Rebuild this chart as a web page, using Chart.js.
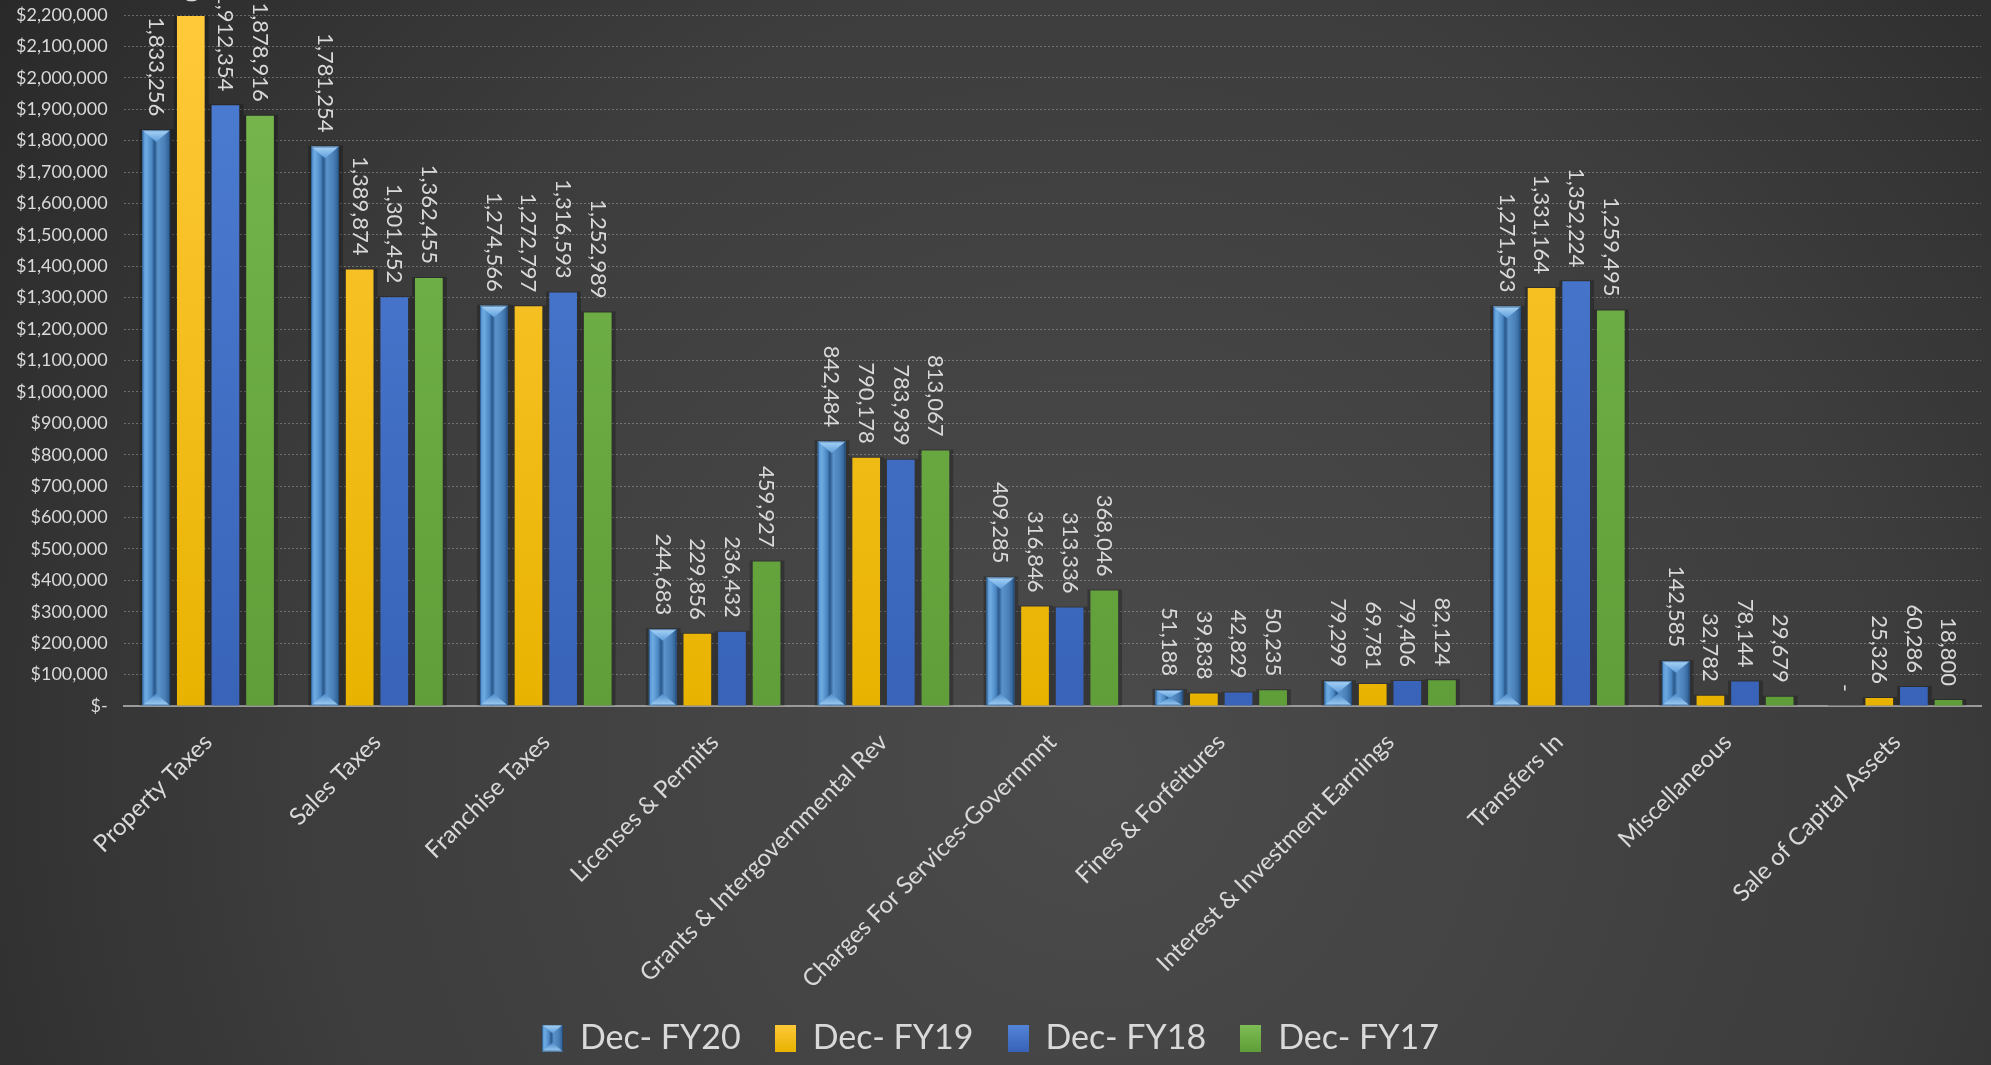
<!DOCTYPE html>
<html>
<head>
<meta charset="utf-8">
<script src="https://cdn.jsdelivr.net/npm/chart.js@4.4.1/dist/chart.umd.min.js"></script>
<style>
html,body{margin:0;padding:0;background:#333;}
#wrap{width:1991px;height:1065px;}
</style>
</head>
<body>
<div id="wrap"><canvas id="c" width="1991" height="1065"></canvas></div>
<script>
const categories = [
  "Property Taxes", "Sales Taxes", "Franchise Taxes", "Licenses & Permits",
  "Grants & Intergovernmental Rev", "Charges For Services-Governmnt",
  "Fines & Forfeitures", "Interest & Investment Earnings", "Transfers In",
  "Miscellaneous", "Sale of Capital Assets"
];
const seriesNames = ["Dec- FY20", "Dec- FY19", "Dec- FY18", "Dec- FY17"];
const fy20 = [1833256, 1781254, 1274566, 244683, 842484, 409285, 51188, 79299, 1271593, 142585, 0];
const fy19 = [2196500, 1389874, 1272797, 229856, 790178, 316846, 39838, 69781, 1331164, 32782, 25326];
const fy18 = [1912354, 1301452, 1316593, 236432, 783939, 313336, 42829, 79406, 1352224, 78144, 60286];
const fy17 = [1878916, 1362455, 1252989, 459927, 813067, 368046, 50235, 82124, 1259495, 29679, 18800];
const yMin = 0, yMax = 2200000, yStep = 100000;

const FONT = "Lato, 'Open Sans', sans-serif";
const TXT = "#d9d9d9";

function fmtNum(v){ return v === 0 ? "-" : v.toLocaleString("en-US"); }

function fy20Fill(c2, L, T, w, h){
  const R = L + w, B = T + h, cx = L + w/2;
  const g = c2.createLinearGradient(L, 0, R, 0);
  g.addColorStop(0, "#4f8fd0");
  g.addColorStop(0.14, "#6fabe2");
  g.addColorStop(0.34, "#4a86c2");
  g.addColorStop(0.44, "#2b588a");
  g.addColorStop(0.50, "#3f74aa");
  g.addColorStop(0.56, "#5b93ca");
  g.addColorStop(0.80, "#4a80b8");
  g.addColorStop(1, "#2c5b8e");
  c2.fillStyle = g;
  c2.fillRect(L, T, w, h);
  const th = Math.min(w * 0.42, h / 2);
  const gt = c2.createLinearGradient(0, T, 0, T + th);
  gt.addColorStop(0, "#a9d3f6");
  gt.addColorStop(1, "#5f9fdc");
  c2.fillStyle = gt;
  c2.beginPath();
  c2.moveTo(L, T); c2.lineTo(R, T); c2.lineTo(cx, T + th); c2.closePath();
  c2.fill();
  const gb = c2.createLinearGradient(0, B - th, 0, B);
  gb.addColorStop(0, "#4d8ccb");
  gb.addColorStop(1, "#9fcdf3");
  c2.fillStyle = gb;
  c2.beginPath();
  c2.moveTo(L, B); c2.lineTo(R, B); c2.lineTo(cx, B - th); c2.closePath();
  c2.fill();
  c2.strokeStyle = "rgba(25,60,100,0.55)";
  c2.lineWidth = 1;
  c2.strokeRect(L + 0.5, T + 0.5, w - 1, h - 1);
}

function legendIcon(i){
  const cv = document.createElement("canvas");
  cv.width = 21; cv.height = 27;
  const c2 = cv.getContext("2d");
  if (i === 0) { fy20Fill(c2, 0, 0, 21, 27); return cv; }
  const cols = [null, ["#ffc93a", "#e8b300"], ["#5585d8", "#3863b8"], ["#7fbd56", "#5f9e38"]][i];
  const g = c2.createLinearGradient(0, 0, 0, 27);
  g.addColorStop(0, cols[0]); g.addColorStop(1, cols[1]);
  c2.fillStyle = g; c2.fillRect(0, 0, 21, 27);
  return cv;
}
const icons = [0, 1, 2, 3].map(legendIcon);

const bgPlugin = {
  id: "bg",
  beforeDraw(chart){
    const ctx = chart.ctx, w = chart.width, h = chart.height;
    const g = ctx.createRadialGradient(w*0.55, h*0.72, 0, w*0.55, h*0.72, w*0.72);
    g.addColorStop(0, "#4b4b4b");
    g.addColorStop(0.55, "#3d3d3d");
    g.addColorStop(1, "#262626");
    ctx.save();
    ctx.fillStyle = g;
    ctx.fillRect(0, 0, w, h);
    ctx.restore();
  }
};

const shadowPlugin = {
  id: "shadow",
  beforeDatasetsDraw(chart){
    const ctx = chart.ctx;
    ctx.save();
    chart.data.datasets.forEach((ds, i) => {
      const meta = chart.getDatasetMeta(i);
      meta.data.forEach(el => {
        const p = el.getProps(["x","y","base","width"], true);
        const L = p.x - p.width/2, T = Math.min(p.y, p.base), B = Math.max(p.y, p.base);
        ctx.fillStyle = "rgba(0,0,0,0.25)";
        ctx.fillRect(L - 3, T - 1, p.width + 7, B - T + 1);
      });
    });
    ctx.restore();
  }
};

const bevelPlugin = {
  id: "bevel",
  afterDatasetDraw(chart, args){
    if (args.index !== 0) return;
    const ctx = chart.ctx;
    const meta = chart.getDatasetMeta(0);
    ctx.save();
    meta.data.forEach(el => {
      const p = el.getProps(["x","y","base","width"], true);
      const T = Math.min(p.y, p.base), B = Math.max(p.y, p.base);
      if (B - T < 1) return;
      fy20Fill(ctx, p.x - p.width/2, T, p.width, B - T);
    });
    ctx.restore();
  }
};

const labelPlugin = {
  id: "vlabels",
  afterDatasetsDraw(chart){
    const ctx = chart.ctx;
    ctx.save();
    ctx.font = "22px " + FONT;
    ctx.fillStyle = TXT;
    ctx.textAlign = "right";
    ctx.textBaseline = "middle";
    chart.data.datasets.forEach((ds, i) => {
      const meta = chart.getDatasetMeta(i);
      meta.data.forEach((el, j) => {
        const p = el.getProps(["x","y"], true);
        ctx.save();
        ctx.translate(p.x, p.y - 14);
        ctx.rotate(Math.PI / 2);
        ctx.fillText(fmtNum(ds.data[j]), 0, 0);
        ctx.restore();
      });
    });
    ctx.restore();
  }
};

function vgrad(top, bottom){
  return (c) => {
    const area = c.chart.chartArea;
    if (!area) return top;
    const g = c.chart.ctx.createLinearGradient(0, area.top, 0, area.bottom);
    g.addColorStop(0, top);
    g.addColorStop(1, bottom);
    return g;
  };
}

const ctx = document.getElementById("c").getContext("2d");
new Chart(ctx, {
  type: "bar",
  data: {
    labels: categories,
    datasets: [
      { label: seriesNames[0], data: fy20, backgroundColor: "#4a86c5" },
      { label: seriesNames[1], data: fy19, backgroundColor: vgrad("#ffc93a", "#e8b300") },
      { label: seriesNames[2], data: fy18, backgroundColor: vgrad("#4d7ed4", "#3863b8") },
      { label: seriesNames[3], data: fy17, backgroundColor: vgrad("#78b84f", "#5f9e38") }
    ]
  },
  options: {
    responsive: false,
    animation: false,
    devicePixelRatio: 1,
    layout: { padding: { left: 0, right: 10, top: 15, bottom: 0 } },
    datasets: { bar: { categoryPercentage: 0.82, barPercentage: 0.8 } },
    scales: {
      x: {
        grid: { display: false },
        border: { display: true, color: "#9a9a9a", width: 2 },
        ticks: {
          color: TXT, font: { family: FONT, size: 24 },
          autoSkip: false, maxRotation: 45, minRotation: 45, padding: 14
        },
        afterFit(scale){ scale.height = 281; }
      },
      y: {
        min: yMin, max: yMax,
        grid: { color: "rgba(200,200,200,0.38)", lineWidth: 1, drawTicks: false },
        border: { display: false, dash: [2, 2] },
        ticks: {
          stepSize: yStep, color: TXT, font: { family: FONT, size: 18 }, padding: 16,
          callback: (v) => v === 0 ? "$-" : "$" + v.toLocaleString("en-US")
        },
        afterFit(scale){ scale.paddingTop = 0; scale.paddingBottom = 0; }
      }
    },
    plugins: {
      legend: {
        position: "bottom",
        labels: {
          color: TXT, font: { family: FONT, size: 34 },
          boxWidth: 21, boxHeight: 27, padding: 34,
          usePointStyle: true,
          generateLabels(chart){
            const items = Chart.defaults.plugins.legend.labels.generateLabels(chart);
            items.forEach((it, i) => { it.pointStyle = icons[i]; });
            return items;
          }
        }
      },
      tooltip: { enabled: false }
    }
  },
  plugins: [bgPlugin, shadowPlugin, bevelPlugin, labelPlugin]
});
</script>
</body>
</html>
